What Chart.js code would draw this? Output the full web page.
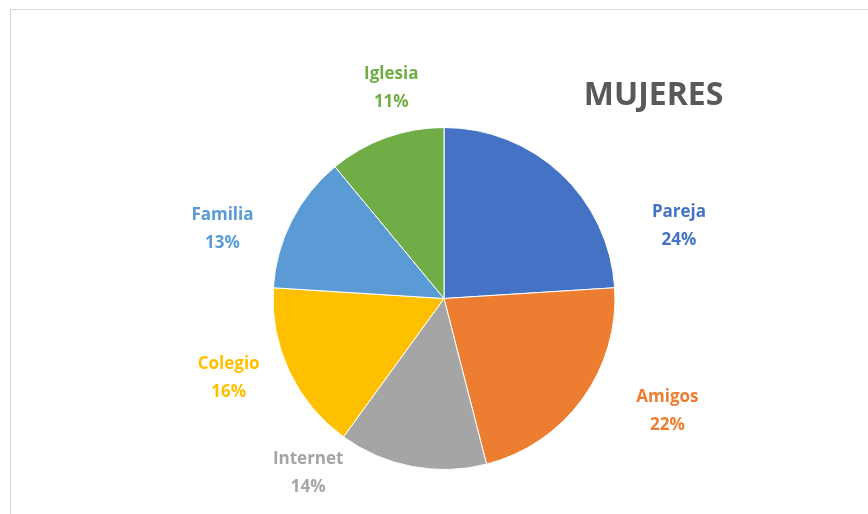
<!DOCTYPE html>
<html>
<head>
<meta charset="utf-8">
<script src="https://cdn.jsdelivr.net/npm/chart.js@4/dist/chart.umd.min.js"></script>
<style>
  body { margin: 0; background: #fff; overflow: hidden; }
  #frame { position: absolute; left: 10px; top: 9px; width: 900px; height: 560px; border: 1px solid #d9d9d9; }
  #box { position: absolute; left: 0; top: 0; width: 868px; height: 514px; }
</style>
</head>
<body>
<div id="frame"></div>
<div id="box"><canvas id="pieChart"></canvas></div>
<script>
// data
const categories = ["Pareja", "Amigos", "Internet", "Colegio", "Familia", "Iglesia"];
const shares = [24, 22, 14, 16, 13, 11];
const sliceColors = ["#4472C4", "#ED7D31", "#A5A5A5", "#FFC000", "#5B9BD5", "#70AD47"];
const chartTitle = "MUJERES";

// where each label sits: angle from 12 o'clock (deg) and distance as multiple of radius
const labelSpots = [
  [72.6, 1.44],
  [116.5, 1.46],
  [218, 1.29],
  [250, 1.34],
  [287.7, 1.36],
  [346, 1.275],
];

const fontFamily = "'Open Sans', Lato, sans-serif";

const labelPlugin = {
  id: "pieLabels",
  afterDatasetsDraw(chart) {
    const ctx = chart.ctx;
    const meta = chart.getDatasetMeta(0);
    const total = shares.reduce((a, b) => a + b, 0);
    ctx.save();
    ctx.textAlign = "center";
    ctx.textBaseline = "middle";
    ctx.font = "bold 17px " + fontFamily;
    meta.data.forEach((arc, i) => {
      const [deg, k] = labelSpots[i];
      const a = (deg * Math.PI) / 180;
      const x = arc.x + Math.sin(a) * arc.outerRadius * k;
      const y = arc.y - Math.cos(a) * arc.outerRadius * k;
      const pct = Math.round((shares[i] / total) * 100) + "%";
      ctx.fillStyle = sliceColors[i];
      ctx.fillText(categories[i], x, y - 13);
      ctx.fillText(pct, x, y + 15);
    });
    // title
    ctx.fillStyle = "#595959";
    ctx.font = "bold 32px " + fontFamily;
    ctx.fillText(chartTitle, chart.width * 0.753, 96);
    ctx.restore();
  },
};

document.addEventListener("DOMContentLoaded", () => {
  const ctx = document.getElementById("pieChart").getContext("2d");
  new Chart(ctx, {
    type: "pie",
    data: {
      labels: categories,
      datasets: [
        {
          data: shares,
          backgroundColor: sliceColors,
          borderColor: "#ffffff",
          borderWidth: 1,
          hoverOffset: 0,
        },
      ],
    },
    options: {
      responsive: true,
      maintainAspectRatio: false,
      animation: false,
      layout: { padding: { left: 272, right: 252, top: 127, bottom: 44 } },
      plugins: {
        legend: { display: false },
        title: { display: false },
        tooltip: { enabled: false },
      },
    },
    plugins: [labelPlugin],
  });
});
</script>
</body>
</html>
